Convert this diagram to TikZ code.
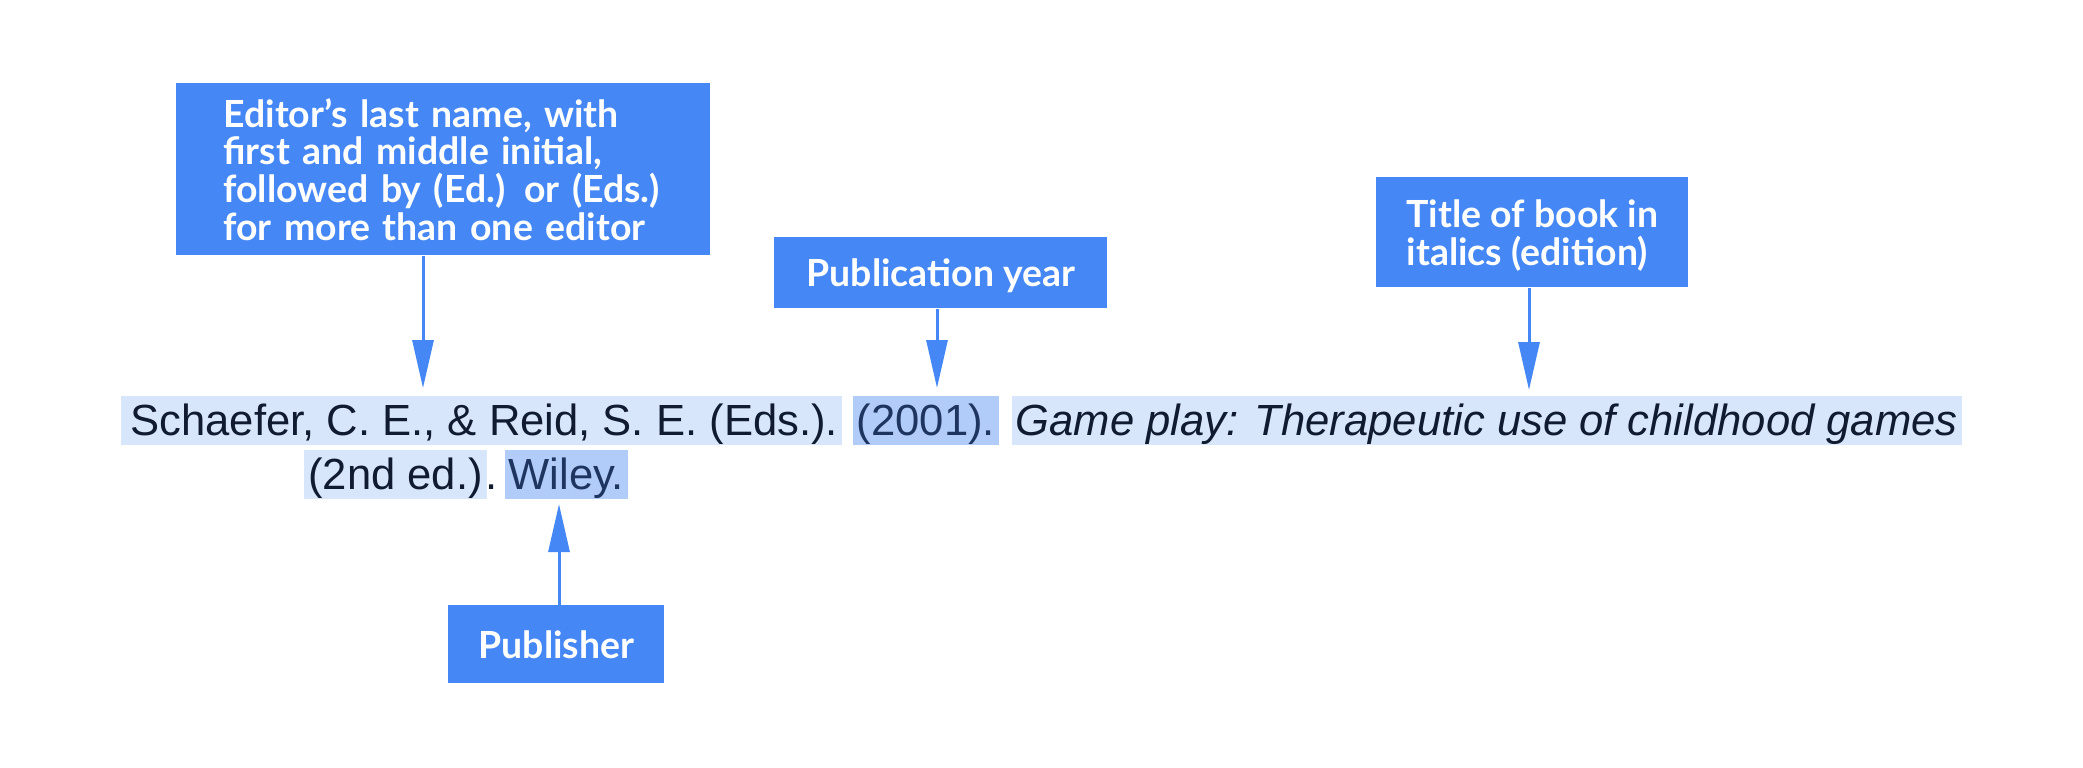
\documentclass[tikz,border=0pt]{standalone}
\usepackage{fontspec}
\setmainfont{Liberation Sans}
\newfontfamily\labelfont{Lato}
\usepackage{tikz}
\usetikzlibrary{positioning, arrows.meta}

\definecolor{boxblue}{HTML}{4487F5}
\definecolor{hlight}{HTML}{D8E6FC}
\definecolor{hdark}{HTML}{B1CCF8}
\definecolor{inkdark}{HTML}{101B30}
\definecolor{inkblue}{HTML}{1E3560}

\tikzset{
  labelbox/.style={fill=boxblue, text=white, anchor=north west, inner sep=0pt,
    font=\labelfont\bfseries\fontsize{18.7}{18.85}\selectfont},
  shortlabel/.style={labelbox, text depth=0pt},
  ref/.style={text=inkdark, anchor=north west, inner xsep=2pt, inner ysep=0pt,
    text height=19.5pt, text depth=5pt, font=\fontsize{21.8}{26}\selectfont},
  refhl/.style={ref, fill=hlight},
  refhd/.style={ref, fill=hdark, text=inkblue},
  pointer/.style={draw=boxblue, line width=1.5pt, -{Triangle[length=24pt, width=10.5pt]}},
}

\begin{document}
\begin{tikzpicture}[x=0.5pt, y=-0.5pt]
    \useasboundingbox (0,0) rectangle (2083,767);

    \node [refhl] (SR) at (121,396) {\hspace{2.5pt}Schaefer, C. E., \& Reid, S. E. (Eds.).};
    \node [refhd, right = 5pt of SR] (Yr) {(2001).};
    \node [refhl, right = 6pt of Yr] (GP) {\textit{Game play: Therapeutic use of childhood games}\ };
    \node [refhl] (Ed2) at (304,450) {(2nd ed.)};
    \node [ref, inner xsep=0pt, right = -1pt of Ed2] (dot) {.};
    \node [refhd, right = 3pt of dot] (Wl) {Wiley.};

    \node [labelbox, minimum width=267pt, minimum height=86pt, text width=220pt,
      inner xsep=23.5pt, align=left] (EdL) at (176,83)
      {Editor’s last name, with\\first and middle initial,\\followed by (Ed.) or (Eds.)\\for more than one editor};
    \node [shortlabel, minimum width=166.5pt, minimum height=35.5pt] (YrL) at (774,237) {Publication year};
    \node [shortlabel, minimum width=156pt, minimum height=55pt, align=left] (TiL) at (1376,177)
      {Title of book in\\italics (edition)};
    \node [shortlabel, minimum width=108pt, minimum height=39pt] (PbL) at (448,605) {Publisher};

    \coordinate (EdT) at (423,388);
    \coordinate (YrT) at (937,388);
    \coordinate (TiT) at (1529,390);
    \coordinate (PbT) at (559,504);

    \draw [pointer] (EdL.south -| EdT) -- (EdT);
    \draw [pointer] (YrL.south -| YrT) -- (YrT);
    \draw [pointer] (TiL.south -| TiT) -- (TiT);
    \draw [pointer] (PbL.north -| PbT) -- (PbT);
\end{tikzpicture}
\end{document}
